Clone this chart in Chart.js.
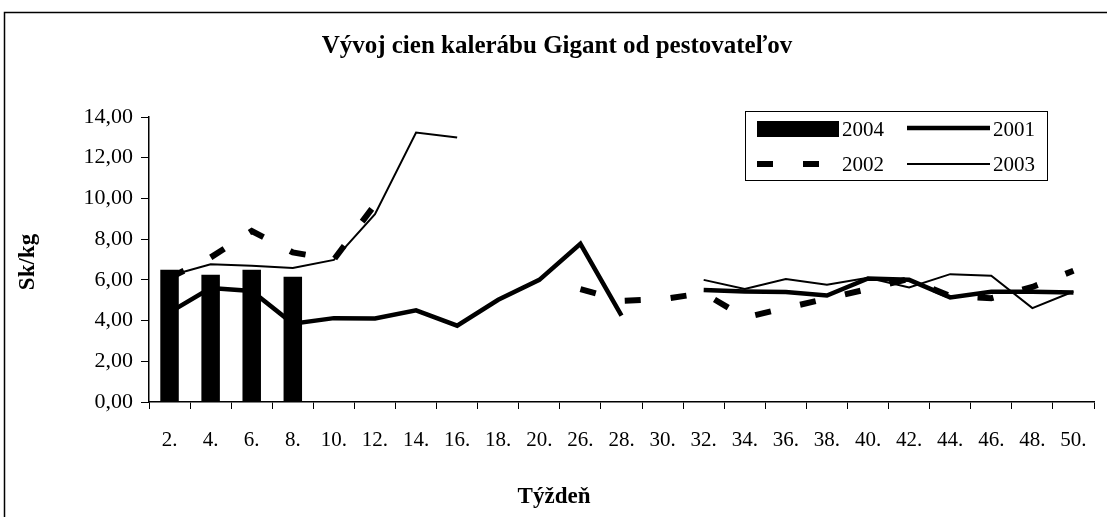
<!DOCTYPE html>
<html>
<head>
<meta charset="utf-8">
<script src="https://cdn.jsdelivr.net/npm/chart.js@4"></script>
<style>
  html, body { margin: 0; padding: 0; background: #fff; }
  canvas { display: block; }
</style>
</head>
<body>
<canvas id="myChart" width="1107" height="517"></canvas>
<script>
// tyzdne (kategorie osi X)
const weeks = ['2.', '4.', '6.', '8.', '10.', '12.', '14.', '16.', '18.', '20.', '26.', '28.', '30.',
  '32.', '34.', '36.', '38.', '40.', '42.', '44.', '46.', '48.', '50.'];

// ceny v Sk/kg
const prices2004 = [6.5, 6.25, 6.5, 6.15, null, null, null, null, null, null, null, null, null,
  null, null, null, null, null, null, null, null, null, null];
const prices2001 = [4.4, 5.6, 5.45, 3.85, 4.12, 4.1, 4.5, 3.75, 5.02, 6.0, 7.77, 4.24, null,
  5.5, 5.43, 5.4, 5.23, 6.07, 6.0, 5.14, 5.42, 5.42, 5.38];
const prices2002 = [6.1, 7.1, 8.4, 7.35, 7.0, 9.7, null, null, null, null, 5.55, 4.97, 5.05,
  5.35, 4.15, 4.62, 5.08, 5.55, 6.05, 5.2, 5.1, 5.65, 6.45];
const prices2003 = [6.2, 6.77, 6.69, 6.58, 6.98, 9.23, 13.24, 12.99, null, null, null, null, null,
  6.0, 5.55, 6.04, 5.76, 6.1, 5.63, 6.28, 6.2, 4.61, 5.43];

const yTicks = [0, 2, 4, 6, 8, 10, 12, 14];

const FONT = 'Liberation Serif';

// ram, nadpisy a legenda
const decorPlugin = {
  id: 'decor',
  afterDraw(chart) {
    const ctx = chart.ctx;
    ctx.save();
    // vonkajsi ram (vpravo a dole orezany)
    ctx.strokeStyle = '#000';
    ctx.lineWidth = 1.5;
    ctx.strokeRect(4.5, 12.5, 1120, 530);

    ctx.fillStyle = '#000';
    ctx.textAlign = 'center';
    ctx.textBaseline = 'middle';
    ctx.font = 'bold 25px ' + FONT;
    ctx.fillText('Vývoj cien kalerábu Gigant od pestovateľov', 557, 47);

    ctx.font = 'bold 23px ' + FONT;
    ctx.fillText('Týždeň', 554, 497);
    ctx.save();
    ctx.translate(28, 262);
    ctx.rotate(-Math.PI / 2);
    ctx.fillText('Sk/kg', 0, 0);
    ctx.restore();

    // legenda
    const bx = 745.5, by = 111.5, bw = 302, bh = 69;
    ctx.fillStyle = '#fff';
    ctx.fillRect(bx, by, bw, bh);
    ctx.lineWidth = 1;
    ctx.strokeStyle = '#000';
    ctx.strokeRect(bx, by, bw, bh);

    const ds = chart.data.datasets;
    const slots = [[757, 129], [907, 128], [757, 164], [907, 164]];
    ctx.font = '21px ' + FONT;
    ctx.textAlign = 'left';
    ds.forEach((d, i) => {
      const [x, y] = slots[i];
      const w = i % 2 === 0 ? 82 : 83;
      if (d.type === 'bar') {
        ctx.fillStyle = d.backgroundColor;
        ctx.fillRect(x, y - 8, w, 16);
      } else {
        ctx.strokeStyle = d.borderColor;
        ctx.lineWidth = d.borderWidth;
        ctx.setLineDash(d.borderDash || []);
        ctx.beginPath();
        ctx.moveTo(x, y);
        ctx.lineTo(x + w, y);
        ctx.stroke();
        ctx.setLineDash([]);
      }
      ctx.fillStyle = '#000';
      ctx.fillText(d.label, x + w + 3, slots[i % 2 === 0 ? i : i - 1][1] + 1);
    });
    ctx.restore();
  }
};

const ctx = document.getElementById('myChart').getContext('2d');
const myChart = new Chart(ctx, {
  data: {
    labels: weeks,
    datasets: [
      {
        type: 'bar',
        label: '2004',
        data: prices2004,
        backgroundColor: '#000',
        barPercentage: 0.9,
        categoryPercentage: 0.5
      },
      {
        type: 'line',
        label: '2001',
        data: prices2001,
        borderColor: '#000',
        borderWidth: 4.5,
        pointRadius: 0,
        tension: 0,
        spanGaps: false
      },
      {
        type: 'line',
        label: '2002',
        data: prices2002,
        borderColor: '#000',
        borderWidth: 6,
        borderDash: [16, 30],
        borderCapStyle: 'butt',
        pointRadius: 0,
        tension: 0,
        spanGaps: false
      },
      {
        type: 'line',
        label: '2003',
        data: prices2003,
        borderColor: '#000',
        borderWidth: 2,
        pointRadius: 0,
        tension: 0,
        spanGaps: false
      }
    ]
  },
  options: {
    responsive: false,
    animation: false,
    devicePixelRatio: 1,
    layout: {
      padding: { left: 10, right: 13, top: 117, bottom: 0 }
    },
    scales: {
      x: {
        type: 'category',
        offset: true,
        grid: {
          offset: true,
          drawOnChartArea: false,
          drawTicks: true,
          tickLength: 7,
          tickColor: '#000',
          color: '#000'
        },
        border: { display: true, color: '#000', width: 1.5 },
        ticks: {
          autoSkip: false,
          maxRotation: 0,
          padding: 19,
          color: '#000',
          font: { size: 21, family: FONT }
        },
        afterFit(scale) { scale.height = 517 - 402; }
      },
      y: {
        min: 0,
        max: 14,
        afterBuildTicks(scale) { scale.ticks = yTicks.map(v => ({ value: v })); },
        grid: {
          drawOnChartArea: false,
          drawTicks: true,
          tickLength: 8,
          tickColor: '#000',
          color: '#000'
        },
        border: { display: true, color: '#000', width: 1.5 },
        ticks: {
          padding: 8,
          color: '#000',
          font: { size: 22, family: FONT },
          callback: v => v.toFixed(2).replace('.', ',')
        },
        afterFit(scale) { scale.width = 149 - 10; }
      }
    },
    plugins: {
      legend: { display: false },
      title: { display: false },
      tooltip: { enabled: false }
    }
  },
  plugins: [decorPlugin]
});
</script>
</body>
</html>
